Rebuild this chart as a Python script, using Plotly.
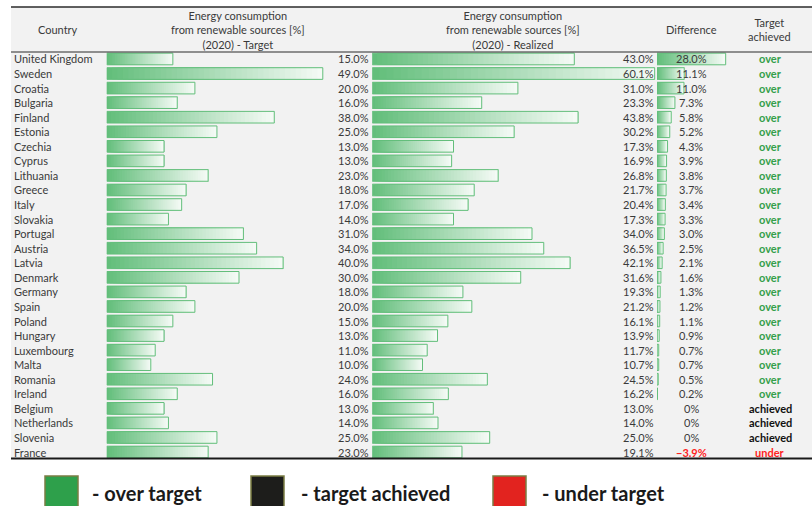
import plotly.graph_objects as go

# ---- data -------------------------------------------------------------
countries = [
    "United Kingdom", "Sweden", "Croatia", "Bulgaria", "Finland", "Estonia",
    "Czechia", "Cyprus", "Lithuania", "Greece", "Italy", "Slovakia",
    "Portugal", "Austria", "Latvia", "Denmark", "Germany", "Spain", "Poland",
    "Hungary", "Luxembourg", "Malta", "Romania", "Ireland", "Belgium",
    "Netherlands", "Slovenia", "France",
]
target = [15.0, 49.0, 20.0, 16.0, 38.0, 25.0, 13.0, 13.0, 23.0, 18.0, 17.0,
          14.0, 31.0, 34.0, 40.0, 30.0, 18.0, 20.0, 15.0, 13.0, 11.0, 10.0,
          24.0, 16.0, 13.0, 14.0, 25.0, 23.0]
realized = [43.0, 60.1, 31.0, 23.3, 43.8, 30.2, 17.3, 16.9, 26.8, 21.7, 20.4,
            17.3, 34.0, 36.5, 42.1, 31.6, 19.3, 21.2, 16.1, 13.9, 11.7, 10.7,
            24.5, 16.2, 13.0, 14.0, 25.0, 19.1]
difference = [28.0, 11.1, 11.0, 7.3, 5.8, 5.2, 4.3, 3.9, 3.8, 3.7, 3.4, 3.3,
              3.0, 2.5, 2.1, 1.6, 1.3, 1.2, 1.1, 0.9, 0.7, 0.7, 0.5, 0.2,
              0.0, 0.0, 0.0, -3.9]
status = ["over"] * 24 + ["achieved"] * 3 + ["under"]

legend_labels = ["- over target", "- target achieved", "- under target"]

# ---- styling ------------------------------------------------------------
W, H = 812, 506
FONT = "Lato"
TEXT = "#3a3a3a"
BAR_EDGE = "#63be7b"
GRAD_START = (99, 190, 123)
GRAD_END = (244, 250, 245)
STATUS_COLORS = {"over": "#34a04a", "achieved": "#111111", "under": "#ff2222"}
LEGEND_COLORS = ["#2ea04b", "#1d1d1b", "#e2231f"]


def px(x):
    return x / W


def py(y):
    return 1 - y / H


def mix(a, b, t):
    return "rgb({},{},{})".format(*[round(a[i] + (b[i] - a[i]) * t) for i in range(3)])


fig = go.Figure()

N_STEPS = 40
BAR_WIDTH = 0.8


def gradient_bars(values, xaxis):
    # data bar: overlapping layers, each starting a little further right and
    # a little lighter, so the fill fades from green to white without gaps.
    # Only positive values get a bar.
    shown = [v if v > 0 else None for v in values]
    for k in range(N_STEPS):
        col = mix(GRAD_START, GRAD_END, k / (N_STEPS - 1))
        fig.add_bar(
            y=countries,
            x=[None if v is None else v * (N_STEPS - k) / N_STEPS for v in shown],
            base=[None if v is None else v * k / N_STEPS for v in shown],
            orientation="h",
            marker=dict(color=col, line=dict(width=0)), width=BAR_WIDTH,
            xaxis=xaxis, yaxis="y", hoverinfo="skip", showlegend=False,
        )
    fig.add_bar(
        y=countries, x=shown, base=0, orientation="h",
        marker=dict(color="rgba(0,0,0,0)", line=dict(color=BAR_EDGE, width=1)),
        width=BAR_WIDTH, xaxis=xaxis, yaxis="y", hoverinfo="skip", showlegend=False,
    )


gradient_bars(target, "x")
gradient_bars(realized, "x2")
gradient_bars(difference, "x3")

# ---- annotations -------------------------------------------------------
ann = []


def note(text, x, y, xanchor="center", yref="paper", size=11, color=TEXT, bold=False):
    if bold:
        text = "<b>" + text + "</b>"
    ann.append(dict(
        text=text, x=x, y=y, xref="paper", yref=yref, xanchor=xanchor,
        yanchor="middle", showarrow=False,
        font=dict(family=FONT, size=size, color=color),
    ))


for c, t, r, d, s in zip(countries, target, realized, difference, status):
    note(c, px(12), c, xanchor="left", yref="y")
    note(f"{t:.1f}%", px(370.5), c, xanchor="right", yref="y")
    note(f"{r:.1f}%", px(655.5), c, xanchor="right", yref="y")
    if d == 0:
        dtxt = "0%"
    elif d < 0:
        dtxt = f"\u2212{abs(d):.1f}%"
    else:
        dtxt = f"{d:.1f}%"
    note(dtxt, px(691), c, yref="y",
         color=STATUS_COLORS["under"] if d < 0 else TEXT, bold=d < 0)
    note(s, px(770), c, yref="y", color=STATUS_COLORS[s], bold=True)

# headers
note("Country", px(58), py(29))
note("Energy consumption<br>from renewable sources [%]<br>(2020) - Target", px(238), py(29.5))
note("Energy consumption<br>from renewable sources [%]<br>(2020) - Realized", px(513), py(29.5))
note("Difference", px(691), py(29))
note("Target<br>achieved", px(769), py(29.5))

# table background and rules
shapes = [
    dict(type="rect", xref="paper", yref="paper", x0=px(11), x1=1,
         y0=py(458), y1=py(7), fillcolor="#f2f2f2", line=dict(width=0), layer="below"),
    dict(type="line", xref="paper", yref="paper", x0=px(11), x1=1,
         y0=py(7), y1=py(7), line=dict(color="#2b2b2b", width=1.3)),
    dict(type="line", xref="paper", yref="paper", x0=px(11), x1=1,
         y0=py(52), y1=py(52), line=dict(color="#2b2b2b", width=1)),
    dict(type="line", xref="paper", yref="paper", x0=px(11), x1=1,
         y0=py(458.5), y1=py(458.5), line=dict(color="#1a1a1a", width=2)),
]

# legend
legend_square_x = [45, 251, 493]
legend_text_x = [90, 299, 540]
for label, col, sx, tx in zip(legend_labels, LEGEND_COLORS, legend_square_x, legend_text_x):
    shapes.append(dict(
        type="rect", xref="paper", yref="paper", x0=px(sx), x1=px(sx + 33),
        y0=py(509), y1=py(476), fillcolor=col, line=dict(color="#7b7d44", width=1.5),
    ))
    note(label, px(tx), py(493), xanchor="left", size=20, color="#1a1a1a", bold=True)

# ---- layout ----------------------------------------------------------------
axis_common = dict(visible=False, showgrid=False, zeroline=False, fixedrange=True)
fig.update_layout(
    width=W, height=H, margin=dict(l=0, r=0, t=0, b=0),
    paper_bgcolor="white", plot_bgcolor="rgba(0,0,0,0)",
    barmode="overlay", showlegend=False,
    font=dict(family=FONT, size=11, color=TEXT),
    xaxis=dict(domain=[px(106.7), px(370)], range=[0, (370 - 106.7) / 4.41],
               anchor="y", **axis_common),
    xaxis2=dict(domain=[px(372.2), px(657)], range=[0, (657 - 372.2) / 4.70],
                anchor="y", **axis_common),
    xaxis3=dict(domain=[px(657), px(745)], range=[0, (745 - 657) / 2.453],
                anchor="y", **axis_common),
    yaxis=dict(domain=[py(459.3), py(51.7)], type="category",
               categoryorder="array", categoryarray=countries,
               range=[len(countries) - 0.5, -0.5], **axis_common),
    shapes=shapes, annotations=ann,
)

fig.write_html("out.html")
